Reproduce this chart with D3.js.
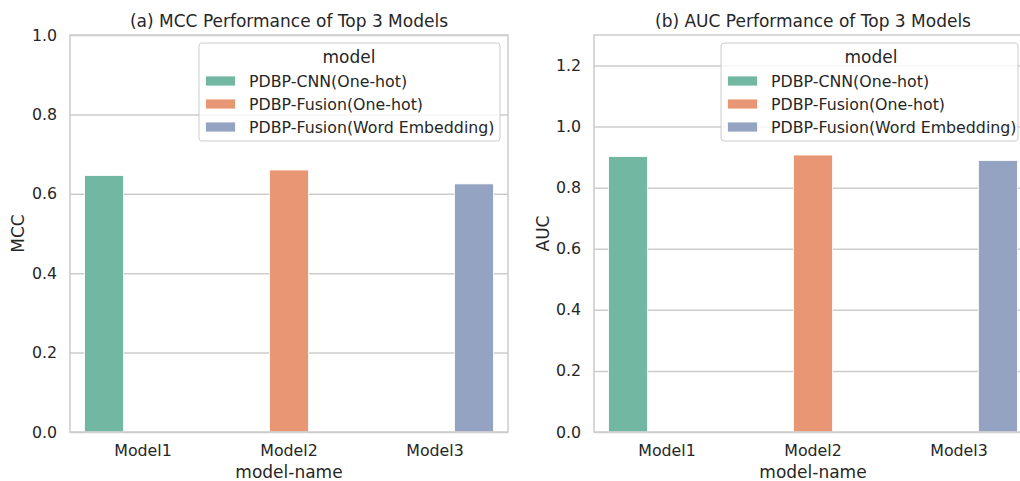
<!DOCTYPE html>
<html>
<head>
<meta charset="utf-8">
<script src="https://cdn.jsdelivr.net/npm/d3@7"></script>
<style>
    body { margin: 0; background: #fff; }
    text { font-family: "DejaVu Sans", sans-serif; fill: #262626; }
</style>
</head>
<body>
<svg id="chart" width="1020" height="481"></svg>
<script>
// data
const modelNames = ["Model1", "Model2", "Model3"];
const hueNames = ["PDBP-CNN(One-hot)", "PDBP-Fusion(One-hot)", "PDBP-Fusion(Word Embedding)"];
// each model-name row belongs to one hue (same index)
const rowHue = ["PDBP-CNN(One-hot)", "PDBP-Fusion(One-hot)", "PDBP-Fusion(Word Embedding)"];
const mccValues = [0.646, 0.660, 0.625];
const aucValues = [0.902, 0.907, 0.889];
const mccTicks = [0.0, 0.2, 0.4, 0.6, 0.8, 1.0];
const aucTicks = [0.0, 0.2, 0.4, 0.6, 0.8, 1.0, 1.2];

// Set2, desaturated like seaborn bars
const hueColors = ["#72b7a1", "#e99675", "#95a3c3"];

const GRID = "#cccccc";

let svg = d3.select("#chart");

function drawPanel(opts) {
    let width = 438;
    let height = 397;

    let g = svg.append("g")
        .attr("transform", `translate(${opts.left},35)`);

    let x_scale = d3.scaleBand()
        .domain(modelNames)
        .range([0, width])
        .padding(0);

    let hue_scale = d3.scaleBand()
        .domain(hueNames)
        .range([x_scale.bandwidth() * 0.1, x_scale.bandwidth() * 0.9])
        .padding(0);

    let y_scale = d3.scaleLinear()
        .domain([0, opts.yMax])
        .range([height, 0]);

    let color = d3.scaleOrdinal().domain(hueNames).range(hueColors);

    // grid lines
    g.append("g")
        .attr("class", "grid")
        .call(d3.axisLeft(y_scale).tickValues(opts.ticks).tickSize(-width).tickFormat(""))
        .call(a => a.select(".domain").remove())
        .call(a => a.selectAll("line").attr("stroke", GRID).attr("stroke-width", 1.5));

    // y axis labels
    g.append("g")
        .attr("class", "axis axis-y")
        .call(d3.axisLeft(y_scale).tickValues(opts.ticks).tickSize(0).tickPadding(13).tickFormat(d3.format(".1f")))
        .call(a => a.select(".domain").remove())
        .call(a => a.selectAll("text").attr("font-size", "15.8px").attr("fill", "#262626")
            .style("font-family", "DejaVu Sans"));

    // x axis labels
    g.append("g")
        .attr("class", "axis axis-x")
        .attr("transform", "translate(0," + height + ")")
        .call(d3.axisBottom(x_scale).tickSize(0).tickPadding(13))
        .call(a => a.select(".domain").remove())
        .call(a => a.selectAll("text").attr("font-size", "15.8px").attr("fill", "#262626")
            .style("font-family", "DejaVu Sans"));

    // bars
    opts.values.forEach((v, idx) => {
        let hue = rowHue[idx];
        g.append("rect")
            .attr("x", x_scale(modelNames[idx]) + hue_scale(hue))
            .attr("y", y_scale(v))
            .attr("width", hue_scale.bandwidth())
            .attr("height", y_scale(0) - y_scale(v))
            .attr("fill", color(hue))
            .attr("stroke", "#ffffff")
            .attr("stroke-width", 0.8);
    });

    // spines
    g.append("rect")
        .attr("x", 0)
        .attr("y", 0)
        .attr("width", width)
        .attr("height", height)
        .attr("fill", "none")
        .attr("stroke", GRID)
        .attr("stroke-width", 1.5);

    // title
    g.append("text")
        .attr("x", width / 2)
        .attr("y", -8.5)
        .attr("font-size", "17px")
        .attr("text-anchor", "middle")
        .text(opts.title);

    // x label
    g.append("text")
        .attr("x", width / 2)
        .attr("y", height + 46)
        .attr("font-size", "17px")
        .attr("text-anchor", "middle")
        .text("model-name");

    // y label
    g.append("text")
        .attr("transform", `translate(${opts.yLabelX},${height / 2}) rotate(-90)`)
        .attr("font-size", "17px")
        .attr("text-anchor", "middle")
        .attr("dy", "0.35em")
        .text(opts.yLabel);

    // legend
    let lg = svg.append("g")
        .attr("transform", `translate(${opts.legendX},43)`);

    lg.append("rect")
        .attr("width", opts.legendW)
        .attr("height", 98)
        .attr("rx", 3)
        .attr("fill", "#ffffff")
        .attr("fill-opacity", 0.8)
        .attr("stroke", GRID)
        .attr("stroke-width", 1);

    lg.append("text")
        .attr("x", 150)
        .attr("y", 14)
        .attr("dy", "0.35em")
        .attr("font-size", "17px")
        .attr("text-anchor", "middle")
        .text("model");

    hueNames.forEach((h, i) => {
        lg.append("rect")
            .attr("x", 6.5)
            .attr("y", 33 + i * 23)
            .attr("width", 30)
            .attr("height", 10)
            .attr("fill", color(h))
            .attr("stroke", "#ffffff")
            .attr("stroke-width", 0.8);
        lg.append("text")
            .attr("x", 50)
            .attr("y", 38 + i * 23)
            .attr("dy", "0.35em")
            .attr("font-size", "15.8px")
            .text(h);
    });
}

drawPanel({
    left: 70,
    values: mccValues,
    ticks: mccTicks,
    yMax: 1.0,
    title: "(a) MCC Performance of Top 3 Models",
    yLabel: "MCC",
    yLabelX: -52,
    legendX: 199,
    legendW: 301
});

drawPanel({
    left: 594,
    values: aucValues,
    ticks: aucTicks,
    yMax: 1.3,
    title: "(b) AUC Performance of Top 3 Models",
    yLabel: "AUC",
    yLabelX: -51,
    legendX: 721,
    legendW: 297
});
</script>
</body>
</html>
